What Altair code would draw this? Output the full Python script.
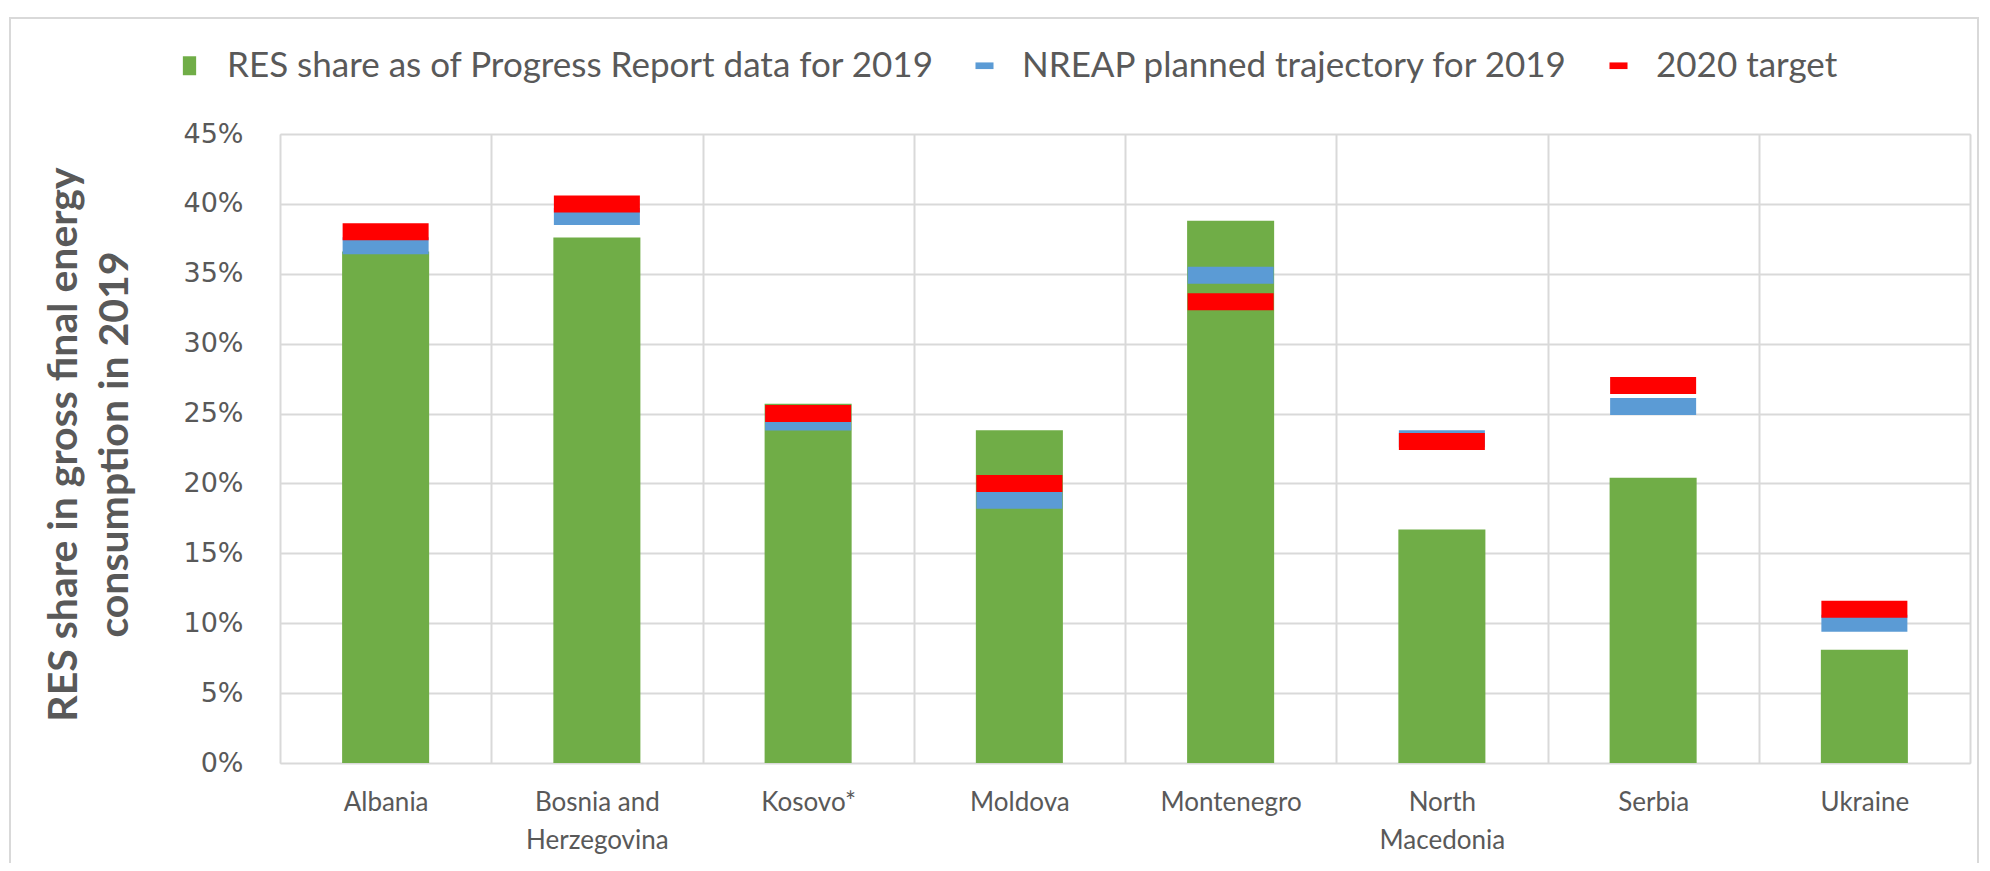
import altair as alt
import pandas as pd

countries = ["Albania", "Bosnia and Herzegovina", "Kosovo*", "Moldova",
             "Montenegro", "North Macedonia", "Serbia", "Ukraine"]
res_2019 = [36.6, 37.6, 25.7, 23.8, 38.8, 16.7, 20.4, 8.1]
nreap_2019 = [37.0, 39.1, 24.4, 18.8, 34.9, 23.2, 25.5, 10.0]
target_2020 = [38.0, 40.0, 25.0, 20.0, 33.0, 23.0, 27.0, 11.0]
series = ["RES share as of Progress Report data for 2019",
          "NREAP planned trajectory for 2019",
          "2020 target"]
colors = ["#70AD47", "#5B9BD5", "#FF0000"]
y_ticks = [0, 5, 10, 15, 20, 25, 30, 35, 40, 45]

rows = []
for s, vals in zip(series, [res_2019, nreap_2019, target_2020]):
    for c, v in zip(countries, vals):
        rows.append({"country": c, "series": s, "value": v})
df = pd.DataFrame(rows)

GRID = "#d9d9d9"
TXT = "#595959"

label_expr = ("datum.label == 'Bosnia and Herzegovina' ? ['Bosnia and', 'Herzegovina'] : "
              "datum.label == 'North Macedonia' ? ['North', 'Macedonia'] : datum.label")

x_enc = alt.X("country:N", sort=countries,
              scale=alt.Scale(paddingInner=0, paddingOuter=0),
              axis=alt.Axis(title=None, tickBand="extent", grid=True, gridColor=GRID,
                            gridWidth=2, domain=False, ticks=False, labelAngle=0,
                            labelExpr=label_expr, labelFont="Lato", labelFontSize=26,
                            labelColor=TXT, labelPadding=26, labelLineHeight=38,
                            labelBaseline="top"))
y_enc = alt.Y("value:Q", scale=alt.Scale(domain=[0, 45], nice=False),
              axis=alt.Axis(values=y_ticks, labelExpr="datum.value + '%'",
                            title=["RES share in gross final energy", "consumption in 2019"],
                            titleFont="Lato", titleFontWeight="bold", titleFontSize=41,
                            titleColor=TXT, titleLineHeight=51, titleAngle=-90,
                            titleX=-216, titleY=310, titleAlign="center",
                            titleBaseline="middle",
                            ticks=False, domain=False, gridColor=GRID, gridWidth=2,
                            labelFont="DejaVu Sans", labelFontSize=27, labelColor=TXT,
                            labelPadding=37))

sq = "M-0.7,-1L0.7,-1L0.7,1L-0.7,1Z"
dash = "M-0.95,-0.35L0.95,-0.35L0.95,0.35L-0.95,0.35Z"
legend = alt.Legend(title=None, orient="none", legendX=-108, legendY=-86,
                    direction="horizontal", labelFont="Lato", labelFontSize=35,
                    labelColor=TXT, symbolSize=360, symbolStrokeWidth=0,
                    columnPadding=32, labelOffset=20, labelLimit=1000)
color = alt.Color("series:N", scale=alt.Scale(domain=series, range=colors), legend=legend)
shape = alt.Shape("series:N", scale=alt.Scale(domain=series, range=[sq, dash, dash]),
                  legend=legend)

bars = alt.Chart(df).transform_filter(
    alt.datum.series == series[0]
).mark_bar(width=alt.RelativeBandSize(0.412)).encode(x=x_enc, y=y_enc, color=color)

ticks = alt.Chart(df).transform_filter(
    alt.datum.series != series[0]
).mark_tick(thickness=17, size=86, opacity=1).encode(x=x_enc, y=y_enc, color=color)

legend_pts = alt.Chart(df).transform_filter("false").mark_point(filled=True).encode(
    x=x_enc, y=y_enc, color=color, shape=shape)

frame = alt.Chart(pd.DataFrame({"k": [0]})).mark_rect(
    filled=False, stroke=GRID, strokeWidth=2
).encode(x=alt.value(-270), x2=alt.value(1698), y=alt.value(-116), y2=alt.value(732))

chart = alt.layer(frame, bars, ticks, legend_pts).properties(
    width=1690, height=629,
    autosize=alt.AutoSizeParams(type="none"),
    padding={"left": 272, "top": 126, "right": 12, "bottom": 100},
).configure_view(stroke=GRID, strokeWidth=2).configure(background="white")

chart.save("out.html", embed_options={"renderer": "svg", "actions": False})
